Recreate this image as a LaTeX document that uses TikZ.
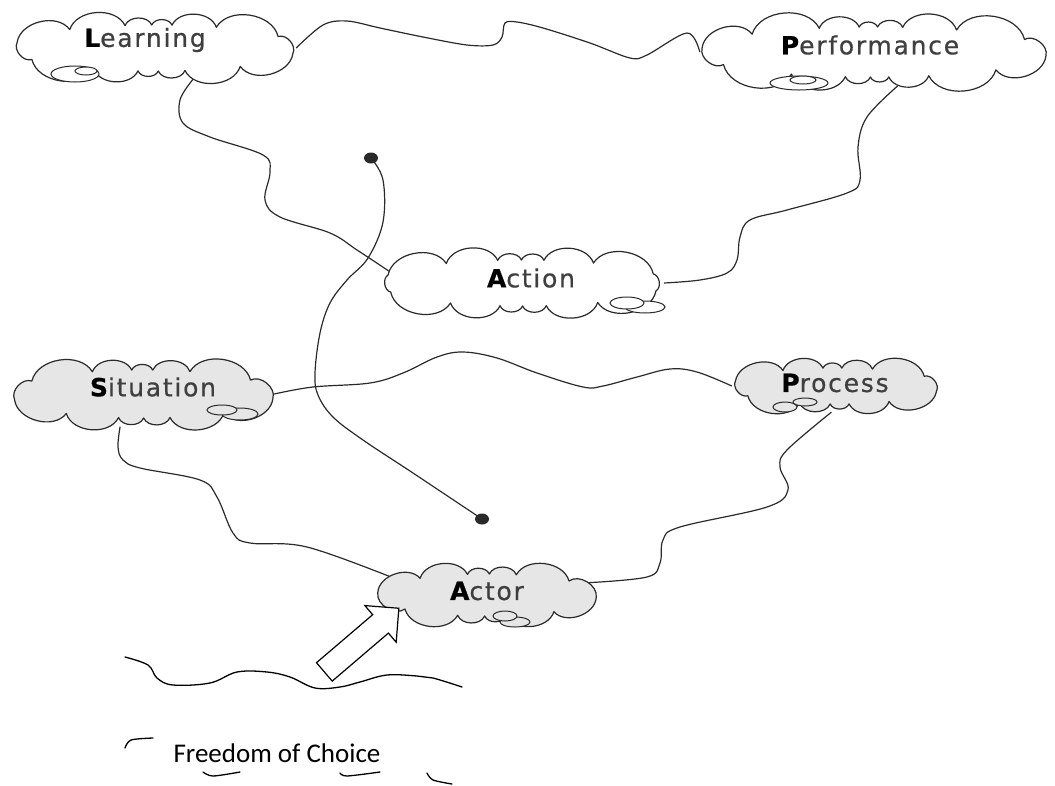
\documentclass[tikz,border=0pt]{standalone}
\usepackage{fontspec}
\setmainfont{Liberation Sans}
\newfontfamily\cloudfont[LetterSpace=7, FakeBold=0.6]{DejaVu Sans}
\newfontfamily\calib{Carlito}
\usetikzlibrary{shapes.arrows,shapes.geometric,backgrounds}
\definecolor{cgray}{HTML}{E6E6E6}
\definecolor{ink}{HTML}{2A2A2A}
% #1 cx, #2 cy, #3 a, #4 b, #5 fill, #6 puffs, #7 phase, #8 distortion
\newcommand\drawcloud[8]{%
  \draw[cloudline, fill=#5]
    ({#1+#3*cos(#7+#8*sin(2*#7))},{#2+#4*sin(#7+#8*sin(2*#7))})
    \foreach \k [evaluate=\k as \t using {#7+360*\k/#6+#8*sin(2*(#7+360*\k/#6))}] in {1,...,#6} {
      to[bend left=68] ({#1+#3*cos(\t)},{#2+#4*sin(\t)})
    } -- cycle;}
\begin{document}
\begin{tikzpicture}[x=1pt,y=-1pt,
  cloudline/.style={draw=ink, line width=1.2pt, line join=round},
  anchorshape/.style={ellipse, inner sep=0pt},
  lab/.style={font=\cloudfont\fontsize{25}{28}\selectfont, text=ink!90, inner sep=0pt},
  link/.style={line width=1.2pt, draw=ink},
  dotnode/.style={ellipse, fill=ink, inner sep=0pt, minimum width=14pt, minimum height=11pt},
  puff/.style={draw=ink, line width=1pt},
  hand/.style={line width=1.3pt, draw=black, line cap=round}]
\useasboundingbox (0,0) rectangle (1055,785);
% cloud nodes (anchors)
\node[anchorshape, minimum width=282pt, minimum height=64pt] (L) at (155,48) {};
\node[anchorshape, minimum width=348pt, minimum height=68pt] (P) at (874,52) {};
\node[anchorshape, minimum width=284pt, minimum height=64pt] (A) at (522,283) {};
\node[anchorshape, minimum width=262pt, minimum height=66pt] (S) at (143,394) {};
\node[anchorshape, minimum width=208pt, minimum height=52pt] (Pr) at (836,386) {};
\node[anchorshape, minimum width=218pt, minimum height=58pt] (Ac) at (487,595) {};
% cloud outlines
\drawcloud{155}{48}{142}{23}{white}{14}{8}{21}
\drawcloud{874}{52}{174}{25}{white}{16}{5}{22}
\drawcloud{522}{283}{143}{23}{white}{14}{12}{21}
\drawcloud{143}{394}{132}{24}{cgray}{13}{6}{20}
\drawcloud{836}{386}{105}{18}{cgray}{12}{10}{20}
\drawcloud{487}{595}{110}{21}{cgray}{12}{4}{20}
% small puffs
\draw[puff, fill=white] (75,74) ellipse (24 and 8);
\draw[puff, fill=white] (86,71) ellipse (11 and 4);
\draw[puff, fill=white] (799,83) ellipse (29 and 7);
\draw[puff, fill=white] (803,80) ellipse (13 and 4);
\draw[puff, fill=white] (645,307) ellipse (20 and 6);
\draw[puff, fill=white] (627,303) ellipse (17 and 6);
\draw[puff, fill=cgray] (240,414) ellipse (18 and 6);
\draw[puff, fill=cgray] (222,410) ellipse (15 and 5);
\draw[puff, fill=cgray] (785,407) ellipse (12 and 5);
\draw[puff, fill=cgray] (805,402) ellipse (12 and 4);
\draw[puff, fill=cgray] (515,622) ellipse (15 and 5);
\draw[puff, fill=cgray] (505,616) ellipse (12 and 5);
% labels
\node[lab] (Lt) at (145,40) {\textbf{\color{black}L}earning};
\node[lab] (Pt) at (870,45) {\textbf{\color{black}P}erformance};
\node[lab] (At) at (531,278) {\textbf{\color{black}A}ction};
\node[lab] (St) at (153,387) {\textbf{\color{black}S}ituation};
\node[lab] (Prt) at (835,383) {\textbf{\color{black}P}rocess};
\node[lab] (Act) at (487,591) {\textbf{\color{black}A}ctor};
% dots
\node[dotnode] (dtop) at (371,158) {};
\node[dotnode] (dbot) at (482,519) {};
% connectors
\begin{scope}[on background layer]
\draw[link] plot[smooth, tension=0.55] coordinates {(L.east) (323,25) (347,21) (380,28) (423,37) (467,45) (493,45) (502,37) (505,23) (517,22) (543,28) (590,43) (630,58) (647,55) (687,33) (P.west)};
\draw[link] plot[smooth, tension=0.6] coordinates {(L.-39) (180,100) (183,123) (210,137) (263,155) (270,172) (265,200) (280,217) (330,233) (357,250) (A.175)};
\draw[link] plot[smooth, tension=0.6] coordinates {(dtop) (383,180) (383,222) (368,258) (347,280) (330,303) (320,333) (315,373) (318,395) (333,417) (363,440) (413,473) (dbot)};
\draw[link] plot[smooth, tension=0.6] coordinates {(P.-55) (867,117) (858,147) (860,180) (847,193) (787,210) (750,220) (740,237) (737,260) (727,273) (700,280) (A.east)};
\draw[link] plot[smooth, tension=0.6] coordinates {(S.east) (313,387) (370,383) (403,373) (437,357) (463,352) (497,358) (537,373) (583,387) (603,386) (637,377) (670,369) (697,372) (Pr.west)};
\draw[link] plot[smooth, tension=0.6] coordinates {(S.-125) (118,447) (123,460) (140,468) (200,480) (217,497) (233,533) (250,543) (307,547) (Ac.170)};
\draw[link] plot[smooth, tension=0.6] coordinates {(Pr.-100) (787,450) (780,467) (788,490) (767,507) (680,527) (663,540) (660,563) (647,577) (Ac.7)};
\end{scope}
% ground line and arrow
\draw[hand] plot[smooth, tension=0.6] coordinates {(125,657) (148,665) (157,678) (173,685) (210,683) (237,672) (267,672) (290,677) (315,688) (340,687) (360,682) (387,675) (417,676) (433,678) (462,687)};
\node[single arrow, draw=black, line width=1.2pt, fill=white, minimum height=98pt, minimum width=47pt, single arrow head extend=12pt, inner sep=11.5pt, rotate=40.5] (arr) at (357,644) {};
% freedom of choice
\node[font=\calib\fontsize{27}{32}\selectfont, inner sep=0pt] (fc) at (277,753) {Freedom of Choice};
\draw[hand] plot[smooth] coordinates {(125,748) (131,740) (153,738)};
\draw[hand] plot[smooth] coordinates {(203,772) (213,776) (240,772)};
\draw[hand] plot[smooth] coordinates {(340,773) (347,776) (380,772)};
\draw[hand] plot[smooth] coordinates {(427,773) (433,780) (452,784)};
\end{tikzpicture}
\end{document}
